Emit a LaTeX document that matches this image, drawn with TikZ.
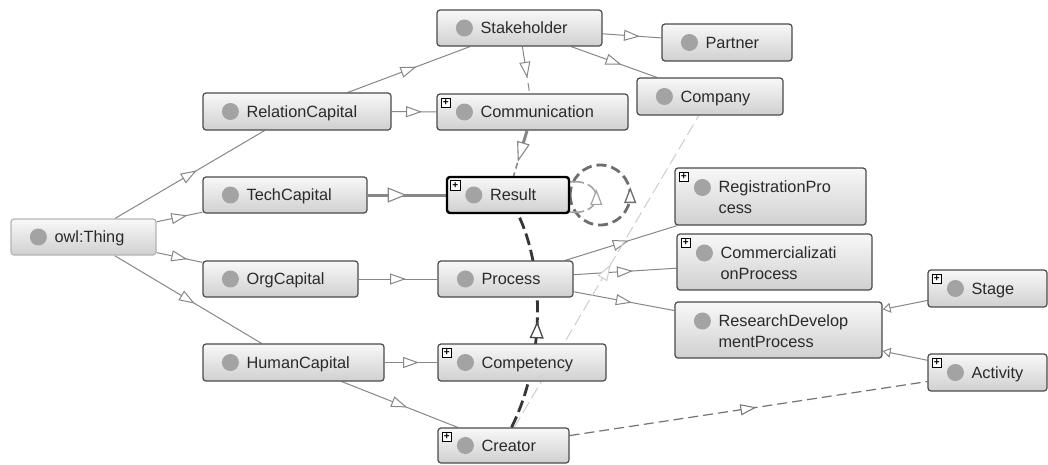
\documentclass[tikz,border=0pt]{standalone}
\usepackage{fontspec}
\setmainfont{Liberation Sans}
\usetikzlibrary{arrows.meta,decorations.markings}
\pgfdeclarelayer{bottom}
\pgfdeclarelayer{background}
\pgfsetlayers{bottom,background,main}
\definecolor{boxtop}{HTML}{F8F8F8}
\definecolor{boxbot}{HTML}{D0D0D0}
\definecolor{boxborder}{HTML}{4A4A4A}
\definecolor{thingborder}{HTML}{B4B4B4}
\definecolor{dotc}{HTML}{A3A3A3}
\definecolor{edgec}{HTML}{878787}
\definecolor{txtc}{HTML}{2A2A2A}
\definecolor{lightc}{HTML}{CDCDCD}
\definecolor{darkc}{HTML}{353535}
\definecolor{loopc}{HTML}{6E6E6E}
\tikzset{
 clsbox/.style={draw=boxborder, line width=1.2pt, rounded corners=3pt, top color=boxtop, bottom color=boxbot, inner sep=0pt},
 thingbox/.style={draw=thingborder},
 selbox/.style={draw=black, line width=2.4pt},
 clsdot/.style={circle, fill=dotc, minimum size=17pt, inner sep=0pt},
 clstext/.style={text=txtc, font=\fontsize{16.3}{21}\selectfont, inner sep=0pt},
 plusbox/.style={draw=black, fill=white, line width=0.6pt, minimum size=9.5pt, inner sep=0pt, font=\fontsize{10}{10}\selectfont\bfseries},
 subedge/.style={draw=edgec, line width=1pt, postaction={decorate}, decoration={markings, mark=at position 0.5 with {\arrow[xshift=8pt]{Triangle[fill=white,length=16pt,width=11pt,line width=1pt]}}}},
 plainedge/.style={draw=edgec, line width=1pt},
 arrowonly/.style={postaction={decorate}, decoration={markings, mark=at position 0.5 with {\arrow[xshift=8pt,draw=edgec]{Triangle[fill=white,length=16pt,width=11pt,line width=1pt]}}}},
 thickedge/.style={draw=edgec, line width=3pt, postaction={decorate}, decoration={markings, mark=at position 0.5 with {\arrow{Triangle[fill=white,length=19pt,width=15pt,line width=1.1pt]}}}},
 thickarrowonly/.style={postaction={decorate}, decoration={markings, mark=at position 0.5 with {\arrow[xshift=9pt,draw=edgec]{Triangle[fill=white,length=20pt,width=13pt,line width=1.1pt]}}}},
 tipedge/.style={draw=edgec, line width=1pt, -{Triangle[fill=white,length=8pt,width=10pt,line width=1pt]}},
 objedge/.style={draw=edgec!85!black, line width=1.2pt, dash pattern=on 10pt off 5pt, postaction={decorate}, decoration={markings, mark=at position 0.5 with {\arrow[xshift=8pt]{Triangle[fill=white,length=16pt,width=11pt,line width=1pt]}}}},
 lightedge/.style={draw=lightc, line width=1pt, dash pattern=on 12pt off 5pt, postaction={decorate}, decoration={markings, mark=at position 0.5 with {\arrow[xshift=8pt]{Triangle[fill=white,length=16pt,width=11pt,line width=1pt]}}}},
 darkdash/.style={draw=darkc, line width=2.8pt, dash pattern=on 12pt off 5pt, postaction={decorate}, decoration={markings, mark=at position 0.5 with {\arrow[draw=boxborder]{Triangle[fill=white,length=17pt,width=14pt,line width=1.3pt]}}}},
 loopouter/.style={draw=loopc, line width=2.8pt, dash pattern=on 10pt off 5pt, postaction={decorate}, decoration={markings, mark=at position 0.5 with {\arrow[xshift=8pt]{Triangle[fill=white,length=16pt,width=12pt,line width=1.3pt]}}}},
 loopinner/.style={draw=lightc!80!black, line width=1.6pt, dash pattern=on 14pt off 4pt, postaction={decorate}, decoration={markings, mark=at position 0.5 with {\arrow[xshift=8pt]{Triangle[fill=white,length=16pt,width=12pt,line width=1.2pt]}}}},
}
\newcommand\oclsA[7]{%
  \node[clsbox,minimum width=#4pt,minimum height=#5pt,#6] (#1) at (#2,#3) {};
  \node[clsdot] (#1-dot) at ([xshift=28pt]#1.west) {};
  \node[clstext,anchor=base west] (#1-txt) at ([xshift=44pt,yshift=-5.8pt]#1.west) {#7};
}
\newcommand\oclsB[7]{%
  \node[clsbox,minimum width=#4pt,minimum height=#5pt,#6] (#1) at (#2,#3) {};
  \node[clsdot] (#1-dot) at ([xshift=28pt,yshift=9pt]#1.west) {};
  \node[clstext,anchor=west,align=left] (#1-txt) at ([xshift=44pt,yshift=-1pt]#1.west) {#7};
}
\newcommand\plusmark[1]{%
  \node[plusbox] (#1-plus) at ([xshift=9.5pt,yshift=-9.5pt]#1.north west) {+};
}
\begin{document}
\begin{tikzpicture}[x=1pt,y=-1pt]
\begin{pgfonlayer}{bottom}
\fill[white] (0,0) rectangle (1048,464);
\end{pgfonlayer}
\useasboundingbox (0,0) rectangle (1048,464);

\oclsA{thing}{83.5}{237}{145}{36}{thingbox}{owl:Thing}
\oclsA{relcap}{297}{111.5}{188}{37}{}{RelationCapital}
\oclsA{techcap}{285}{195}{164}{36}{}{TechCapital}
\oclsA{orgcap}{280.5}{279}{155}{36}{}{OrgCapital}
\oclsA{humcap}{293.5}{362.5}{181}{37}{}{HumanCapital}
\oclsA{stake}{519.5}{28}{165}{36}{}{Stakeholder}
\oclsA{partner}{727}{42.5}{130}{37}{}{Partner}
\oclsA{comm}{532.5}{112}{191}{36}{}{Communication}
\plusmark{comm}
\oclsA{company}{710}{96.5}{146}{37}{}{Company}
\oclsA{result}{508}{195}{122}{36}{selbox}{Result}
\plusmark{result}
\oclsB{regproc}{770.5}{196.5}{191}{57}{}{RegistrationPro\\cess}
\plusmark{regproc}
\oclsB{comproc}{774.5}{262}{195}{56}{}{Commercializati\\onProcess}
\plusmark{comproc}
\oclsA{process}{505.5}{279}{135}{36}{}{Process}
\oclsB{rdp}{778.5}{330}{207}{56}{}{ResearchDevelop\\mentProcess}
\oclsA{stage}{987.5}{288.5}{119}{37}{}{Stage}
\plusmark{stage}
\oclsA{comp}{522}{362.5}{168}{37}{}{Competency}
\plusmark{comp}
\oclsA{activity}{987.5}{372.5}{119}{37}{}{Activity}
\plusmark{activity}
\oclsA{creator}{503.5}{445.5}{131}{35}{}{Creator}
\plusmark{creator}

\begin{pgfonlayer}{background}
\draw[subedge] (thing) -- (relcap);
\draw[subedge] (thing) -- (techcap);
\draw[subedge] (thing) -- (orgcap);
\draw[subedge] (thing) -- (humcap);
\draw[subedge] (relcap) -- (stake);
\draw[subedge] (relcap) -- (comm);
\draw[subedge] (stake) -- (partner);
\draw[subedge] (stake) -- (company);
\path (stake) -- (comm) coordinate[pos=0.5] (sc-mid);
\draw[plainedge] (stake) -- (sc-mid);
\draw[plainedge, dash pattern=on 8pt off 5pt] (sc-mid) -- (comm);
\path[arrowonly] (stake) -- (comm);
\path (comm) -- (result) coordinate[pos=0.5] (cr-mid);
\draw[draw=edgec, line width=3pt] (comm) -- (cr-mid);
\draw[plainedge, line width=1.6pt, dash pattern=on 6pt off 4pt] (cr-mid) -- (result);
\path[thickarrowonly] (comm) -- (result);
\draw[thickedge] (techcap) -- (result);
\draw[subedge] (orgcap) -- (process);
\draw[subedge] (process) -- (regproc);
\draw[subedge] (process) -- (comproc);
\draw[subedge] (process) -- (rdp);
\draw[subedge] (humcap) -- (comp);
\draw[subedge] (humcap) -- (creator);
\draw[tipedge] (stage) -- (rdp);
\draw[tipedge] (activity) -- (rdp);
\draw[objedge] (creator) -- (activity);
\draw[lightedge] (creator) -- (company);
\draw[darkdash] ([xshift=8pt]creator.north) .. controls (545,360) and (545,270) .. ([xshift=10pt]result.south);
\draw[loopouter] (result.east) arc[start angle=180, end angle=540, radius=30pt];
\draw[loopinner] ([yshift=-17pt]result.east) .. controls (605,216) and (605,178) .. ([yshift=13pt]result.east);
\end{pgfonlayer}
\end{tikzpicture}
\end{document}
